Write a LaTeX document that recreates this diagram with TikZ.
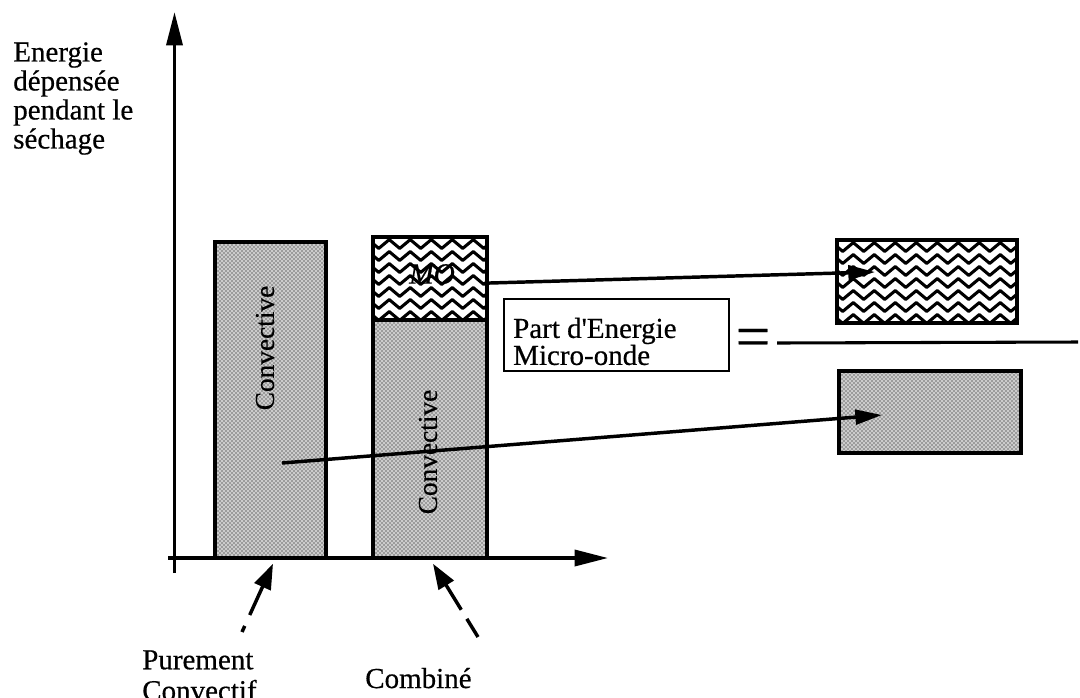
\documentclass[tikz,border=0pt]{standalone}
\usepackage{fontspec}
\setmainfont{Liberation Serif}[FakeBold=0.5]
\usetikzlibrary{arrows.meta,patterns,decorations.pathmorphing,calc}
\begin{document}
\begin{tikzpicture}[x=0.75pt,y=-0.75pt,
  txt/.style={font=\fontsize{21.75pt}{21.75pt}\selectfont, inner sep=0pt},
  vtxt/.style={font=\fontsize{20.5pt}{20.5pt}\selectfont, inner sep=0pt, rotate=90},
  axis/.style={line width=2.6pt, -{Triangle[length=25pt,width=12pt]}},
  stip/.style={draw, line width=2.6pt, inner sep=0pt, preaction={fill=gray!40},
    pattern=crosshatch dots, pattern color=black},
  wavy/.style={draw, line width=2.6pt, inner sep=0pt, fill=white,
    path picture={
      \foreach \k in {0,...,7}{
        \draw[line width=2.3pt, line join=round, decorate,
          decoration={zigzag, segment length=15.75pt, amplitude=3.3pt}]
          ($(path picture bounding box.north west)+(-10,7+12*\k)$) --
          ($(path picture bounding box.north east)+(10,7+12*\k)$);
      }
    }},
  link/.style={line width=2.6pt, -{Triangle[length=20pt,width=11pt]}},
  pointer/.style={line width=2.6pt, dash pattern=on 16pt off 8pt on 60pt,
    -{Triangle[length=19pt,width=13pt]}},
]
\useasboundingbox (0,0) rectangle (1080,697);

% bars and boxes
\node[stip, minimum width=83.25pt, minimum height=237pt] (c1) at (270.5,400) {};
\node[stip, minimum width=85.5pt, minimum height=178.5pt] (c2) at (430,439) {};
\node[wavy, minimum width=85.5pt, minimum height=62.25pt] (mo) at (430,278.5) {};
\node[wavy, minimum width=135pt, minimum height=62.25pt] (mw) at (927,281.5) {};
\node[stip, minimum width=136.5pt, minimum height=61.5pt] (cw) at (930,412) {};

% labels in bars
\node[vtxt] (l1) at (265,348) {Convective};
\node[vtxt] (l2) at (428,452) {Convective};
\node[txt, font=\itshape\fontsize{22pt}{22pt}\selectfont] (lmo) at (432,274) {MO};

% axes
\coordinate (ybot) at (174.5,573);
\coordinate (ytop) at (174.5,12);
\coordinate (xl) at (168,558);
\coordinate (xr) at (608,558);
\draw[axis] (ybot) -- (ytop);
\draw[axis] (xl) -- (xr);

% axis label
\node[txt, anchor=north west, align=left] (ylab) at (13,42)
  {Energie\\dépensée\\pendant le\\séchage};

% ratio box
\node[draw, line width=1.8pt, inner sep=0pt, anchor=north west] (part) at (503,298)
  {\begin{minipage}[t][54pt][b]{168.75pt}\fontsize{21.75pt}{20.25pt}\selectfont
   \raggedright\leftskip=6.75pt
   Part d\textquotesingle Energie\\Micro-onde\par\vspace{4.5pt}\end{minipage}};

\node[inner sep=0pt, font=\fontsize{46pt}{46pt}\selectfont] (eq) at (753,343) {=};
\coordinate (lineend) at (1078,342);
\draw[line width=2.3pt] ([xshift=5pt]eq.east) -- (lineend);

% arrows
\draw[link] ([yshift=-3.4pt]mo.east) -- ($(mw.center)+(-52,-9.5)$);
\draw[link] ($(c1.center)+(11.5,63)$) -- ($(cw.center)+(-48,3)$);

% pointers from labels
\coordinate (p1) at (242,632);
\coordinate (p2) at (478,637);
\draw[pointer, dash pattern=on 5pt off 9pt on 60pt] (p1) -- ($(c1.south)+(2.5,4)$);
\draw[pointer] (p2) -- ($(c2.south)+(3,4)$);

% bottom labels
\node[txt, anchor=north west, align=left, font=\fontsize{21.75pt}{23.25pt}\selectfont]
  (pur) at (142,650) {Purement\\Convectif};
\node[txt, anchor=base west] (comb) at (365,688) {Combiné};
\end{tikzpicture}
\end{document}
